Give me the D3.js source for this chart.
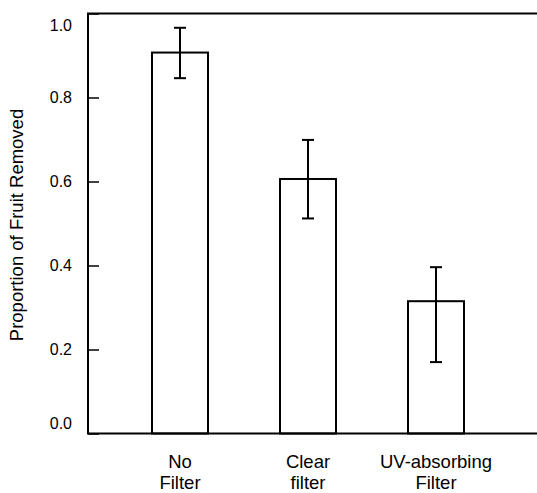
<!DOCTYPE html>
<html lang="en">
  <head>
    <meta charset="UTF-8">
    <title>Proportion of Fruit Removed</title>
    <script src="https://d3js.org/d3.v7.min.js"></script>
    <style>
      body { margin: 0; background: white; }
      text { font-family: "Liberation Sans", Arial, sans-serif; fill: black; }
    </style>
  </head>
  <body>
    <script>
      // values
      var categories = ["No|Filter", "Clear|filter", "UV-absorbing|Filter"];
      var means = [0.907, 0.606, 0.315];
      var upper = [0.966, 0.699, 0.396];
      var lower = [0.846, 0.512, 0.170];
      var yTicks = [0.0, 0.2, 0.4, 0.6, 0.8, 1.0];

      var width = 537, height = 493;
      var margin = { top: 13.5, left: 88, bottom: 59.5 };
      var plotH = height - margin.top - margin.bottom;

      var svg = d3.select("body").append("svg")
        .attr("width", width)
        .attr("height", height);

      var g = svg.append("g")
        .attr("transform", `translate(${margin.left},${margin.top})`);

      var data = categories.map((c, i) => ({ cat: c, mean: means[i], hi: upper[i], lo: lower[i] }));

      var x = d3.scaleBand()
        .domain(categories)
        .range([80 - margin.left, 536 - margin.left])
        .paddingInner(0.5625)
        .paddingOuter(0.5625);

      var y = d3.scaleLinear()
        .domain([0, 1])
        .range([plotH, 0]);

      // y axis, ticks pointing inward
      var yAxis = g.append("g")
        .call(d3.axisLeft(y).tickValues(yTicks).tickFormat(d3.format(".1f"))
          .tickSizeInner(-11).tickSizeOuter(0).tickPadding(16));
      yAxis.select(".domain").remove();
      yAxis.selectAll(".tick line").attr("stroke", "black").attr("stroke-width", 1.5);
      yAxis.selectAll(".tick text")
        .style("font-size", "16px")
        .attr("dy", d => d === 0 ? "-0.34em" : d === 1 ? "1.05em" : "0.32em");

      // bars
      g.selectAll("rect.bar")
        .data(data)
        .enter().append("rect")
        .attr("class", "bar")
        .attr("x", d => x(d.cat))
        .attr("y", d => y(d.mean))
        .attr("width", x.bandwidth())
        .attr("height", d => plotH - y(d.mean))
        .attr("fill", "white")
        .attr("stroke", "black")
        .attr("stroke-width", 2);

      // error bars
      var cap = 6;
      var err = g.selectAll("g.err")
        .data(data)
        .enter().append("g")
        .attr("class", "err")
        .attr("stroke", "black")
        .attr("stroke-width", 2);
      err.append("line")
        .attr("x1", d => x(d.cat) + x.bandwidth() / 2)
        .attr("x2", d => x(d.cat) + x.bandwidth() / 2)
        .attr("y1", d => y(d.hi))
        .attr("y2", d => y(d.lo));
      err.append("line")
        .attr("x1", d => x(d.cat) + x.bandwidth() / 2 - cap)
        .attr("x2", d => x(d.cat) + x.bandwidth() / 2 + cap)
        .attr("y1", d => y(d.hi))
        .attr("y2", d => y(d.hi));
      err.append("line")
        .attr("x1", d => x(d.cat) + x.bandwidth() / 2 - cap)
        .attr("x2", d => x(d.cat) + x.bandwidth() / 2 + cap)
        .attr("y1", d => y(d.lo))
        .attr("y2", d => y(d.lo));

      // frame: left, top, bottom (open on the right edge)
      g.append("path")
        .attr("d", `M${width - margin.left},0H0V${plotH}H${width - margin.left}`)
        .attr("fill", "none")
        .attr("stroke", "black")
        .attr("stroke-width", 2);

      // category labels, two lines each
      var labels = g.selectAll("text.cat")
        .data(data)
        .enter().append("text")
        .attr("class", "cat")
        .attr("text-anchor", "middle")
        .style("font-size", "18.5px")
        .attr("transform", d => `translate(${x(d.cat) + x.bandwidth() / 2},${468 - margin.top})`);
      labels.selectAll("tspan")
        .data(d => d.cat.split("|"))
        .enter().append("tspan")
        .attr("x", 0)
        .attr("dy", (d, i) => i === 0 ? 0 : 21)
        .text(d => d);

      // y label
      svg.append("text")
        .attr("transform", "translate(23,225) rotate(-90)")
        .attr("text-anchor", "middle")
        .style("font-size", "18.5px")
        .text("Proportion of Fruit Removed");
    </script>
  </body>
</html>
